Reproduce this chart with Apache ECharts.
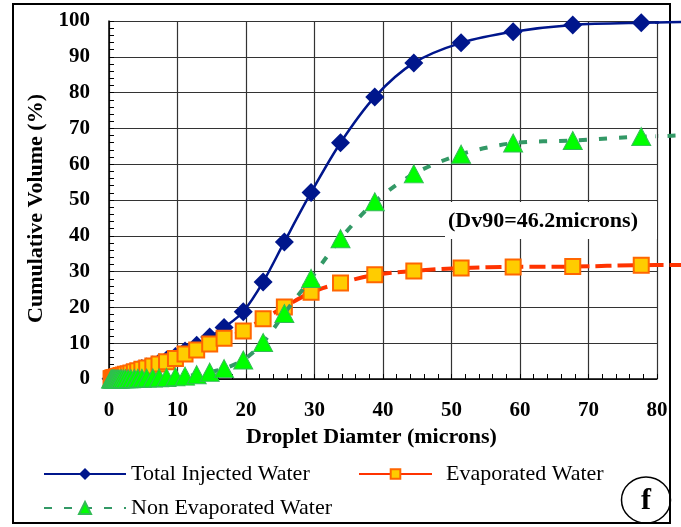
<!DOCTYPE html>
<html>
<head>
<meta charset="utf-8">
<script src="https://cdn.jsdelivr.net/npm/echarts@6/dist/echarts.min.js"></script>
<style>
  html, body { margin: 0; padding: 0; background: #fff; }
  #chart { width: 681px; height: 527px; }
</style>
</head>
<body>
<div id="chart"></div>
<script>
// Droplet size classes (microns)
const diameters = [0.3, 0.4, 0.5, 0.6, 0.7, 0.8, 0.9, 1.05, 1.2, 1.4, 1.6, 1.8, 2.1, 2.4, 2.8, 3.2, 3.7, 4.2, 4.8, 5.5, 6.4, 7.3, 8.4, 9.7, 11.1, 12.8, 14.7, 16.8, 19.6, 22.5, 25.6, 29.5, 33.8, 38.8, 44.5, 51.4, 59.0, 67.7, 77.7, 89.2];

// Cumulative volume (%) per class
const totalInjected = [0.1, 0.15, 0.2, 0.25, 0.3, 0.35, 0.4, 0.5, 0.6, 0.7, 0.85, 1.0, 1.15, 1.4, 1.6, 1.8, 2.15, 2.5, 2.9, 3.35, 3.9, 4.55, 5.3, 6.3, 7.8, 9.4, 11.7, 14.4, 18.8, 27.1, 38.3, 52.1, 66.0, 78.8, 88.3, 93.9, 97.0, 98.9, 99.5, 99.8];
const evaporated = [0.1, 0.15, 0.2, 0.25, 0.3, 0.35, 0.4, 0.5, 0.6, 0.7, 0.85, 0.95, 1.1, 1.3, 1.5, 1.7, 2.0, 2.3, 2.7, 3.1, 3.6, 4.2, 4.8, 5.7, 7.0, 8.1, 9.8, 11.4, 13.4, 16.8, 20.1, 24.2, 26.8, 29.1, 30.2, 31.0, 31.3, 31.4, 31.8, 31.9];
const nonEvaporated = [0, 0, 0, 0, 0, 0, 0, 0, 0, 0, 0, 0.05, 0.05, 0.1, 0.1, 0.1, 0.15, 0.2, 0.2, 0.25, 0.3, 0.35, 0.45, 0.6, 0.8, 1.2, 1.9, 2.9, 5.3, 10.2, 18.3, 28.1, 39.2, 49.5, 57.3, 62.8, 65.9, 66.6, 67.7, 68.2];

const seriesNames = ['Total Injected Water', 'Evaporated Water', 'Non Evaporated Water'];
const dv90Text = '(Dv90=46.2microns)';
const panelLetter = 'f';

const serif = '"Liberation Serif", "Times New Roman", serif';

function pairs(ys) {
  return diameters.map((x, i) => [x, ys[i]]);
}
// last segment of a curve, which runs on past the 80-micron edge of the plot
function tail(ys) {
  return pairs(ys).slice(-2);
}

const styles = [
  {
    symbol: 'diamond', symbolSize: 19,
    lineStyle: { color: '#00168C', width: 2.5 },
    itemStyle: { color: '#00168C', borderColor: '#00168C', borderWidth: 0 }
  },
  {
    symbol: 'rect', symbolSize: 15,
    lineStyle: { color: '#FF3300', width: 4, type: [16, 6] },
    itemStyle: { color: '#FFCC00', borderColor: '#FF6600', borderWidth: 2 }
  },
  {
    symbol: 'triangle', symbolSize: [19, 18],
    lineStyle: { color: '#339966', width: 4, type: [8, 12] },
    itemStyle: { color: '#00FF00', borderColor: '#33BB55', borderWidth: 1 }
  }
];
const curves = [totalInjected, evaporated, nonEvaporated];

const chart = echarts.init(document.getElementById('chart'), null, { renderer: 'canvas' });

const legendBase = {
  orient: 'horizontal',
  itemWidth: 82,
  itemHeight: 15,
  selectedMode: false,
  padding: 0,
  textStyle: { fontFamily: serif, fontSize: 22, color: '#000' }
};

const mainSeries = curves.map((ys, i) => Object.assign({
  name: seriesNames[i],
  type: 'line',
  xAxisIndex: 0, yAxisIndex: 0,
  data: pairs(ys),
  smooth: 0.3,
  z: 2 + i
}, styles[i]));

const tailSeries = curves.map((ys, i) => ({
  name: seriesNames[i] + ' ',
  type: 'line',
  xAxisIndex: 1, yAxisIndex: 1,
  data: tail(ys),
  symbol: 'none',
  lineStyle: styles[i].lineStyle,
  z: 2 + i
}));

const axisFont = { fontFamily: serif, fontSize: 21, fontWeight: 'bold', color: '#000' };
const titleFont = { fontFamily: serif, fontSize: 22, fontWeight: 'bold', color: '#000' };

chart.setOption({
  backgroundColor: '#fff',
  animation: false,
  grid: [
    { left: 109, top: 21, width: 548, height: 358 },
    { left: 657, top: 21, width: 40, height: 358 }
  ],
  xAxis: [
    {
      type: 'value', gridIndex: 0,
      min: 0, max: 80, interval: 10,
      name: 'Droplet Diamter (microns)',
      nameLocation: 'middle',
      nameGap: 47,
      nameTextStyle: Object.assign({ padding: [0, 23, 0, 0] }, titleFont),
      axisLine: { show: true, onZero: false, lineStyle: { color: '#000', width: 1.5 } },
      axisTick: { show: true, inside: true, length: 5, lineStyle: { color: '#000' } },
      minorTick: { show: true, splitNumber: 5, length: 5, lineStyle: { color: '#000' } },
      axisLabel: Object.assign({ margin: 21 }, axisFont),
      splitLine: { show: true, lineStyle: { color: '#333', width: 1.2 } }
    },
    {
      type: 'value', gridIndex: 1,
      min: 80, max: 80 + 40 / 6.85,
      show: false
    }
  ],
  yAxis: [
    {
      type: 'value', gridIndex: 0,
      min: 0, max: 100, interval: 10,
      name: 'Cumulative Volume (%)',
      nameLocation: 'middle',
      nameGap: 62,
      nameTextStyle: Object.assign({ padding: [0, 17, 0, 0] }, titleFont),
      axisLine: { show: true, onZero: false, lineStyle: { color: '#000', width: 1.5 } },
      axisTick: { show: true, inside: true, length: 5, lineStyle: { color: '#000' } },
      minorTick: { show: true, splitNumber: 5, length: 5, lineStyle: { color: '#000' } },
      axisLabel: Object.assign({ margin: 19 }, axisFont),
      splitLine: { show: true, lineStyle: { color: '#333', width: 1.2 } }
    },
    {
      type: 'value', gridIndex: 1,
      min: 0, max: 100,
      show: false
    }
  ],
  legend: [
    Object.assign({}, legendBase, { data: [seriesNames[0]], left: 43, top: 463 }),
    Object.assign({}, legendBase, {
      data: [seriesNames[1]], left: 358, top: 463, itemWidth: 73, itemHeight: 12,
      lineStyle: { type: 'solid' },
      textStyle: { fontFamily: serif, fontSize: 22, color: '#000', padding: [0, 0, 0, 9] }
    }),
    Object.assign({}, legendBase, { data: [seriesNames[2]], left: 43, top: 497 })
  ],
  series: mainSeries.concat(tailSeries),
  graphic: [
    {
      type: 'rect',
      z: 1,
      shape: { x: 13, y: 4, width: 657, height: 519 },
      style: { fill: 'none', stroke: '#000', lineWidth: 2 }
    },
    {
      type: 'rect',
      z: 1,
      shape: { x: 445, y: 202, width: 212, height: 37 },
      style: { fill: '#fff', stroke: 'none' }
    },
    {
      type: 'text',
      z: 5,
      x: 543, y: 221,
      style: {
        text: dv90Text,
        fontFamily: serif, fontSize: 22, fontWeight: 'bold', fill: '#000',
        align: 'center', verticalAlign: 'middle'
      }
    },
    {
      type: 'ellipse',
      z: 5,
      shape: { cx: 646, cy: 500, rx: 24.5, ry: 23 },
      style: { fill: 'none', stroke: '#000', lineWidth: 1.5 }
    },
    {
      type: 'text',
      z: 5,
      x: 646, y: 501,
      style: {
        text: panelLetter,
        fontFamily: serif, fontSize: 30, fontWeight: 'bold', fill: '#000',
        align: 'center', verticalAlign: 'middle'
      }
    }
  ]
});
</script>
</body>
</html>
